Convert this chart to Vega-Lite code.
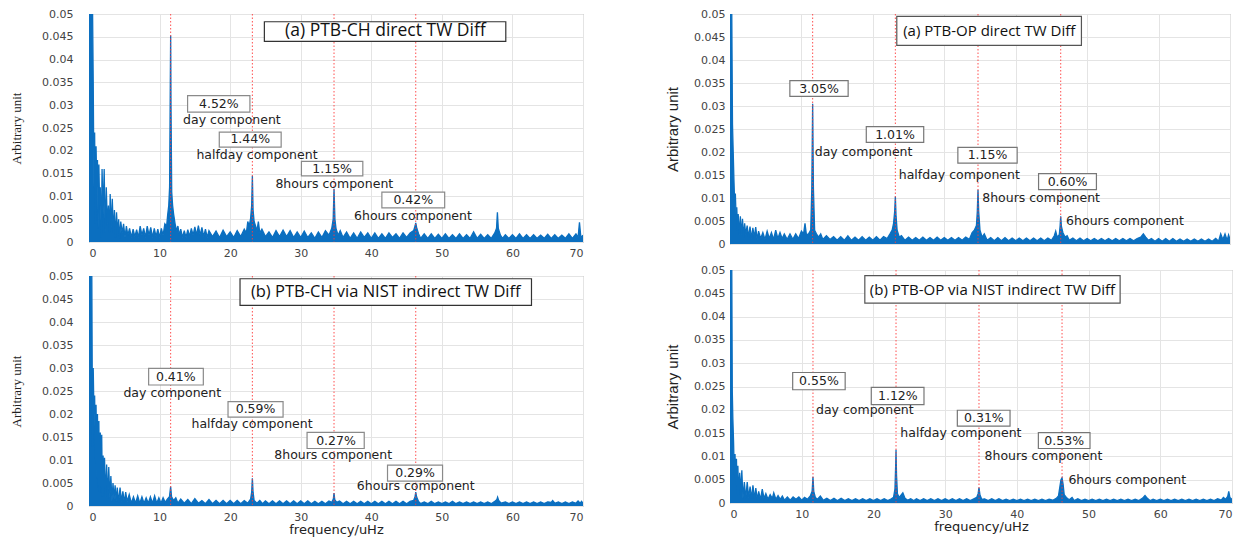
{
"$schema":"https://vega.github.io/schema/vega-lite/v6.json",
"background":"white",
"padding":{"left":10,"top":7,"right":5,"bottom":0},
"datasets":{
"vl":[{"f":11.57},{"f":23.15},{"f":34.72},{"f":46.3}],
"spec":[
{"p":"TL","f":0,"v":0.09},{"p":"TL","f":0.15,"v":0.1},{"p":"TL","f":0.3,"v":0.08},{"p":"TL","f":0.45,"v":0.06},{"p":"TL","f":0.6,"v":0.035},{"p":"TL","f":0.7,"v":0.012},{"p":"TL","f":0.8,"v":0.024},{"p":"TL","f":0.9,"v":0.004},{"p":"TL","f":1.0,"v":0.021},{"p":"TL","f":1.1,"v":0.012},{"p":"TL","f":1.2,"v":0.018},{"p":"TL","f":1.3,"v":0.003},{"p":"TL","f":1.4,"v":0.017},{"p":"TL","f":1.5,"v":0.008},{"p":"TL","f":1.6,"v":0.012},{"p":"TL","f":1.75,"v":0.001},{"p":"TL","f":1.85,"v":0.016},{"p":"TL","f":2.0,"v":0.006},{"p":"TL","f":2.15,"v":0.016},{"p":"TL","f":2.3,"v":0.002},{"p":"TL","f":2.45,"v":0.012},{"p":"TL","f":2.6,"v":0.004},{"p":"TL","f":2.75,"v":0.008},{"p":"TL","f":2.9,"v":0.002},{"p":"TL","f":3.0,"v":0.0105},{"p":"TL","f":3.15,"v":0.003},{"p":"TL","f":3.3,"v":0.0095},{"p":"TL","f":3.45,"v":0.002},{"p":"TL","f":3.6,"v":0.007},{"p":"TL","f":3.75,"v":0.001},{"p":"TL","f":3.9,"v":0.0065},{"p":"TL","f":4.05,"v":0.002},{"p":"TL","f":4.2,"v":0.005},{"p":"TL","f":4.35,"v":0.0008},{"p":"TL","f":4.5,"v":0.0045},{"p":"TL","f":4.7,"v":0.002},{"p":"TL","f":4.9,"v":0.004},{"p":"TL","f":5.1,"v":0.001},{"p":"TL","f":5.3,"v":0.0035},{"p":"TL","f":5.5,"v":0.0015},{"p":"TL","f":5.75,"v":0.003},{"p":"TL","f":6.0,"v":0.001},{"p":"TL","f":6.25,"v":0.0028},{"p":"TL","f":6.5,"v":0.0012},{"p":"TL","f":6.75,"v":0.0027},{"p":"TL","f":7.0,"v":0.001},{"p":"TL","f":7.25,"v":0.0035},{"p":"TL","f":7.5,"v":0.0015},{"p":"TL","f":7.75,"v":0.003},{"p":"TL","f":8.0,"v":0.001},{"p":"TL","f":8.25,"v":0.0035},{"p":"TL","f":8.5,"v":0.0015},{"p":"TL","f":8.75,"v":0.0032},{"p":"TL","f":9.0,"v":0.001},{"p":"TL","f":9.25,"v":0.003},{"p":"TL","f":9.5,"v":0.0012},{"p":"TL","f":9.75,"v":0.0028},{"p":"TL","f":10.0,"v":0.001},{"p":"TL","f":10.25,"v":0.003},{"p":"TL","f":10.5,"v":0.0015},{"p":"TL","f":10.75,"v":0.004},{"p":"TL","f":11.0,"v":0.0035},{"p":"TL","f":11.15,"v":0.006},{"p":"TL","f":11.3,"v":0.008},{"p":"TL","f":11.42,"v":0.012},{"p":"TL","f":11.52,"v":0.035},{"p":"TL","f":11.57,"v":0.0453},{"p":"TL","f":11.62,"v":0.03},{"p":"TL","f":11.72,"v":0.011},{"p":"TL","f":11.85,"v":0.008},{"p":"TL","f":12.0,"v":0.006},{"p":"TL","f":12.2,"v":0.004},{"p":"TL","f":12.4,"v":0.0025},{"p":"TL","f":12.6,"v":0.0035},{"p":"TL","f":12.8,"v":0.0015},{"p":"TL","f":13.0,"v":0.0028},{"p":"TL","f":13.25,"v":0.001},{"p":"TL","f":13.5,"v":0.0025},{"p":"TL","f":13.75,"v":0.001},{"p":"TL","f":14.0,"v":0.0027},{"p":"TL","f":14.25,"v":0.0012},{"p":"TL","f":14.5,"v":0.003},{"p":"TL","f":14.75,"v":0.0015},{"p":"TL","f":15.0,"v":0.0033},{"p":"TL","f":15.25,"v":0.0015},{"p":"TL","f":15.5,"v":0.0036},{"p":"TL","f":15.75,"v":0.0015},{"p":"TL","f":16.0,"v":0.0032},{"p":"TL","f":16.25,"v":0.0012},{"p":"TL","f":16.5,"v":0.0028},{"p":"TL","f":16.75,"v":0.001},{"p":"TL","f":17.0,"v":0.0025},{"p":"TL","f":17.5,"v":0.0012},{"p":"TL","f":18.0,"v":0.0024},{"p":"TL","f":18.5,"v":0.001},{"p":"TL","f":19.0,"v":0.0026},{"p":"TL","f":19.5,"v":0.0012},{"p":"TL","f":20.0,"v":0.0022},{"p":"TL","f":20.5,"v":0.001},{"p":"TL","f":21.0,"v":0.0025},{"p":"TL","f":21.5,"v":0.0012},{"p":"TL","f":22.0,"v":0.0028},{"p":"TL","f":22.3,"v":0.002},{"p":"TL","f":22.5,"v":0.0045},{"p":"TL","f":22.7,"v":0.0035},{"p":"TL","f":22.9,"v":0.0052},{"p":"TL","f":23.05,"v":0.008},{"p":"TL","f":23.15,"v":0.0145},{"p":"TL","f":23.25,"v":0.007},{"p":"TL","f":23.4,"v":0.0045},{"p":"TL","f":23.6,"v":0.0035},{"p":"TL","f":23.8,"v":0.0025},{"p":"TL","f":24.0,"v":0.0045},{"p":"TL","f":24.2,"v":0.002},{"p":"TL","f":24.5,"v":0.0028},{"p":"TL","f":25.0,"v":0.0012},{"p":"TL","f":25.5,"v":0.0022},{"p":"TL","f":26.0,"v":0.001},{"p":"TL","f":26.5,"v":0.0025},{"p":"TL","f":27.0,"v":0.0012},{"p":"TL","f":27.5,"v":0.0026},{"p":"TL","f":28.0,"v":0.0012},{"p":"TL","f":28.5,"v":0.0025},{"p":"TL","f":29.0,"v":0.001},{"p":"TL","f":29.5,"v":0.0022},{"p":"TL","f":30.0,"v":0.001},{"p":"TL","f":30.5,"v":0.0024},{"p":"TL","f":31.0,"v":0.001},{"p":"TL","f":31.5,"v":0.002},{"p":"TL","f":32.0,"v":0.0008},{"p":"TL","f":32.5,"v":0.0022},{"p":"TL","f":33.0,"v":0.001},{"p":"TL","f":33.5,"v":0.0025},{"p":"TL","f":34.0,"v":0.0015},{"p":"TL","f":34.4,"v":0.003},{"p":"TL","f":34.6,"v":0.005},{"p":"TL","f":34.72,"v":0.0117},{"p":"TL","f":34.85,"v":0.005},{"p":"TL","f":35.0,"v":0.003},{"p":"TL","f":35.3,"v":0.0015},{"p":"TL","f":35.6,"v":0.0025},{"p":"TL","f":36.0,"v":0.001},{"p":"TL","f":36.5,"v":0.0022},{"p":"TL","f":37.0,"v":0.0008},{"p":"TL","f":37.5,"v":0.002},{"p":"TL","f":38.0,"v":0.0008},{"p":"TL","f":38.5,"v":0.0022},{"p":"TL","f":39.0,"v":0.001},{"p":"TL","f":39.5,"v":0.002},{"p":"TL","f":40.0,"v":0.0008},{"p":"TL","f":40.5,"v":0.002},{"p":"TL","f":41.0,"v":0.0008},{"p":"TL","f":41.5,"v":0.0018},{"p":"TL","f":42.0,"v":0.0008},{"p":"TL","f":42.5,"v":0.002},{"p":"TL","f":43.0,"v":0.001},{"p":"TL","f":43.5,"v":0.0018},{"p":"TL","f":44.0,"v":0.0008},{"p":"TL","f":44.5,"v":0.002},{"p":"TL","f":45.0,"v":0.001},{"p":"TL","f":45.5,"v":0.002},{"p":"TL","f":46.0,"v":0.0025},{"p":"TL","f":46.2,"v":0.0035},{"p":"TL","f":46.3,"v":0.0042},{"p":"TL","f":46.45,"v":0.003},{"p":"TL","f":46.7,"v":0.0018},{"p":"TL","f":47.0,"v":0.0008},{"p":"TL","f":47.5,"v":0.0018},{"p":"TL","f":48.0,"v":0.0008},{"p":"TL","f":48.5,"v":0.0018},{"p":"TL","f":49.0,"v":0.0008},{"p":"TL","f":49.5,"v":0.0017},{"p":"TL","f":50.0,"v":0.0008},{"p":"TL","f":50.5,"v":0.0018},{"p":"TL","f":51.0,"v":0.0008},{"p":"TL","f":51.5,"v":0.0016},{"p":"TL","f":52.0,"v":0.0008},{"p":"TL","f":52.5,"v":0.0018},{"p":"TL","f":53.0,"v":0.0008},{"p":"TL","f":53.5,"v":0.0016},{"p":"TL","f":54.0,"v":0.0008},{"p":"TL","f":54.5,"v":0.0022},{"p":"TL","f":55.0,"v":0.0008},{"p":"TL","f":55.5,"v":0.0017},{"p":"TL","f":56.0,"v":0.0008},{"p":"TL","f":56.5,"v":0.0016},{"p":"TL","f":57.0,"v":0.0008},{"p":"TL","f":57.5,"v":0.002},{"p":"TL","f":57.75,"v":0.003},{"p":"TL","f":57.87,"v":0.0065},{"p":"TL","f":58.0,"v":0.003},{"p":"TL","f":58.3,"v":0.0015},{"p":"TL","f":58.6,"v":0.0008},{"p":"TL","f":59.0,"v":0.0016},{"p":"TL","f":59.5,"v":0.0008},{"p":"TL","f":60.0,"v":0.0016},{"p":"TL","f":60.5,"v":0.0008},{"p":"TL","f":61.0,"v":0.0018},{"p":"TL","f":61.5,"v":0.0008},{"p":"TL","f":62.0,"v":0.0016},{"p":"TL","f":62.5,"v":0.0008},{"p":"TL","f":63.0,"v":0.0016},{"p":"TL","f":63.5,"v":0.0008},{"p":"TL","f":64.0,"v":0.0015},{"p":"TL","f":64.5,"v":0.0008},{"p":"TL","f":65.0,"v":0.0017},{"p":"TL","f":65.5,"v":0.0008},{"p":"TL","f":66.0,"v":0.0016},{"p":"TL","f":66.5,"v":0.0008},{"p":"TL","f":67.0,"v":0.0015},{"p":"TL","f":67.5,"v":0.0008},{"p":"TL","f":68.0,"v":0.0018},{"p":"TL","f":68.5,"v":0.0008},{"p":"TL","f":69.0,"v":0.0018},{"p":"TL","f":69.3,"v":0.001},{"p":"TL","f":69.5,"v":0.0043},{"p":"TL","f":69.7,"v":0.001},{"p":"TL","f":70.0,"v":0.0015},
{"p":"TR","f":0,"v":0.09},{"p":"TR","f":0.15,"v":0.07},{"p":"TR","f":0.25,"v":0.05},{"p":"TR","f":0.35,"v":0.026},{"p":"TR","f":0.45,"v":0.02},{"p":"TR","f":0.55,"v":0.014},{"p":"TR","f":0.65,"v":0.009},{"p":"TR","f":0.75,"v":0.011},{"p":"TR","f":0.85,"v":0.006},{"p":"TR","f":0.95,"v":0.008},{"p":"TR","f":1.05,"v":0.003},{"p":"TR","f":1.15,"v":0.0065},{"p":"TR","f":1.3,"v":0.002},{"p":"TR","f":1.45,"v":0.006},{"p":"TR","f":1.6,"v":0.002},{"p":"TR","f":1.75,"v":0.0055},{"p":"TR","f":1.9,"v":0.0015},{"p":"TR","f":2.05,"v":0.0045},{"p":"TR","f":2.2,"v":0.002},{"p":"TR","f":2.4,"v":0.004},{"p":"TR","f":2.6,"v":0.0015},{"p":"TR","f":2.8,"v":0.0038},{"p":"TR","f":3.0,"v":0.0012},{"p":"TR","f":3.2,"v":0.0035},{"p":"TR","f":3.4,"v":0.0015},{"p":"TR","f":3.6,"v":0.0037},{"p":"TR","f":3.8,"v":0.001},{"p":"TR","f":4.0,"v":0.0028},{"p":"TR","f":4.3,"v":0.0012},{"p":"TR","f":4.6,"v":0.0025},{"p":"TR","f":4.9,"v":0.001},{"p":"TR","f":5.2,"v":0.0028},{"p":"TR","f":5.5,"v":0.0012},{"p":"TR","f":5.8,"v":0.0025},{"p":"TR","f":6.1,"v":0.001},{"p":"TR","f":6.4,"v":0.003},{"p":"TR","f":6.7,"v":0.0012},{"p":"TR","f":7.0,"v":0.0025},{"p":"TR","f":7.3,"v":0.0012},{"p":"TR","f":7.6,"v":0.0022},{"p":"TR","f":8.0,"v":0.001},{"p":"TR","f":8.4,"v":0.0022},{"p":"TR","f":8.8,"v":0.001},{"p":"TR","f":9.2,"v":0.0022},{"p":"TR","f":9.6,"v":0.0012},{"p":"TR","f":10.0,"v":0.0028},{"p":"TR","f":10.3,"v":0.0022},{"p":"TR","f":10.5,"v":0.0045},{"p":"TR","f":10.7,"v":0.002},{"p":"TR","f":11.0,"v":0.0022},{"p":"TR","f":11.3,"v":0.003},{"p":"TR","f":11.45,"v":0.012},{"p":"TR","f":11.57,"v":0.0305},{"p":"TR","f":11.68,"v":0.012},{"p":"TR","f":11.85,"v":0.003},{"p":"TR","f":12.1,"v":0.0022},{"p":"TR","f":12.4,"v":0.0015},{"p":"TR","f":12.7,"v":0.0022},{"p":"TR","f":13.0,"v":0.001},{"p":"TR","f":13.5,"v":0.0018},{"p":"TR","f":14.0,"v":0.001},{"p":"TR","f":14.5,"v":0.0016},{"p":"TR","f":15.0,"v":0.0008},{"p":"TR","f":15.5,"v":0.0016},{"p":"TR","f":16.0,"v":0.0008},{"p":"TR","f":16.5,"v":0.0018},{"p":"TR","f":17.0,"v":0.0008},{"p":"TR","f":17.5,"v":0.0015},{"p":"TR","f":18.0,"v":0.0008},{"p":"TR","f":18.5,"v":0.0016},{"p":"TR","f":19.0,"v":0.0008},{"p":"TR","f":19.5,"v":0.0015},{"p":"TR","f":20.0,"v":0.0008},{"p":"TR","f":20.5,"v":0.0016},{"p":"TR","f":21.0,"v":0.0008},{"p":"TR","f":21.5,"v":0.0016},{"p":"TR","f":22.0,"v":0.0012},{"p":"TR","f":22.4,"v":0.0022},{"p":"TR","f":22.7,"v":0.003},{"p":"TR","f":22.9,"v":0.0045},{"p":"TR","f":23.05,"v":0.007},{"p":"TR","f":23.15,"v":0.0103},{"p":"TR","f":23.25,"v":0.006},{"p":"TR","f":23.4,"v":0.003},{"p":"TR","f":23.7,"v":0.0015},{"p":"TR","f":24.0,"v":0.0018},{"p":"TR","f":24.5,"v":0.0008},{"p":"TR","f":25.0,"v":0.0015},{"p":"TR","f":25.5,"v":0.0008},{"p":"TR","f":26.0,"v":0.0014},{"p":"TR","f":26.5,"v":0.0008},{"p":"TR","f":27.0,"v":0.0015},{"p":"TR","f":27.5,"v":0.0008},{"p":"TR","f":28.0,"v":0.0014},{"p":"TR","f":28.5,"v":0.0008},{"p":"TR","f":29.0,"v":0.0015},{"p":"TR","f":29.5,"v":0.0008},{"p":"TR","f":30.0,"v":0.0014},{"p":"TR","f":30.5,"v":0.0008},{"p":"TR","f":31.0,"v":0.0014},{"p":"TR","f":31.5,"v":0.0008},{"p":"TR","f":32.0,"v":0.0014},{"p":"TR","f":32.5,"v":0.0008},{"p":"TR","f":33.0,"v":0.0015},{"p":"TR","f":33.5,"v":0.001},{"p":"TR","f":33.9,"v":0.0025},{"p":"TR","f":34.2,"v":0.003},{"p":"TR","f":34.5,"v":0.004},{"p":"TR","f":34.62,"v":0.007},{"p":"TR","f":34.72,"v":0.0118},{"p":"TR","f":34.82,"v":0.007},{"p":"TR","f":35.0,"v":0.003},{"p":"TR","f":35.3,"v":0.0015},{"p":"TR","f":35.6,"v":0.0022},{"p":"TR","f":36.0,"v":0.0008},{"p":"TR","f":36.5,"v":0.0014},{"p":"TR","f":37.0,"v":0.0007},{"p":"TR","f":37.5,"v":0.0014},{"p":"TR","f":38.0,"v":0.0007},{"p":"TR","f":38.5,"v":0.0014},{"p":"TR","f":39.0,"v":0.0007},{"p":"TR","f":39.5,"v":0.0013},{"p":"TR","f":40.0,"v":0.0007},{"p":"TR","f":40.5,"v":0.0013},{"p":"TR","f":41.0,"v":0.0007},{"p":"TR","f":41.5,"v":0.0013},{"p":"TR","f":42.0,"v":0.0007},{"p":"TR","f":42.5,"v":0.0013},{"p":"TR","f":43.0,"v":0.0007},{"p":"TR","f":43.5,"v":0.0013},{"p":"TR","f":44.0,"v":0.0007},{"p":"TR","f":44.5,"v":0.0013},{"p":"TR","f":45.0,"v":0.0008},{"p":"TR","f":45.4,"v":0.0018},{"p":"TR","f":45.6,"v":0.0028},{"p":"TR","f":45.8,"v":0.0015},{"p":"TR","f":46.1,"v":0.002},{"p":"TR","f":46.22,"v":0.004},{"p":"TR","f":46.3,"v":0.006},{"p":"TR","f":46.4,"v":0.0038},{"p":"TR","f":46.6,"v":0.0025},{"p":"TR","f":46.9,"v":0.0015},{"p":"TR","f":47.2,"v":0.0018},{"p":"TR","f":47.5,"v":0.0008},{"p":"TR","f":48.0,"v":0.0013},{"p":"TR","f":48.5,"v":0.0007},{"p":"TR","f":49.0,"v":0.0013},{"p":"TR","f":49.5,"v":0.0007},{"p":"TR","f":50.0,"v":0.0012},{"p":"TR","f":50.5,"v":0.0007},{"p":"TR","f":51.0,"v":0.0012},{"p":"TR","f":51.5,"v":0.0007},{"p":"TR","f":52.0,"v":0.0012},{"p":"TR","f":52.5,"v":0.0007},{"p":"TR","f":53.0,"v":0.0012},{"p":"TR","f":53.5,"v":0.0007},{"p":"TR","f":54.0,"v":0.0012},{"p":"TR","f":54.5,"v":0.0007},{"p":"TR","f":55.0,"v":0.0012},{"p":"TR","f":55.5,"v":0.0007},{"p":"TR","f":56.0,"v":0.0012},{"p":"TR","f":56.5,"v":0.0007},{"p":"TR","f":57.0,"v":0.0012},{"p":"TR","f":57.5,"v":0.0015},{"p":"TR","f":57.87,"v":0.0022},{"p":"TR","f":58.2,"v":0.0015},{"p":"TR","f":58.6,"v":0.0008},{"p":"TR","f":59.0,"v":0.0012},{"p":"TR","f":59.5,"v":0.0006},{"p":"TR","f":60.0,"v":0.0012},{"p":"TR","f":60.5,"v":0.0006},{"p":"TR","f":61.0,"v":0.0012},{"p":"TR","f":61.5,"v":0.0006},{"p":"TR","f":62.0,"v":0.0012},{"p":"TR","f":62.5,"v":0.0006},{"p":"TR","f":63.0,"v":0.0011},{"p":"TR","f":63.5,"v":0.0006},{"p":"TR","f":64.0,"v":0.0011},{"p":"TR","f":64.5,"v":0.0006},{"p":"TR","f":65.0,"v":0.0011},{"p":"TR","f":65.5,"v":0.0006},{"p":"TR","f":66.0,"v":0.0011},{"p":"TR","f":66.5,"v":0.0006},{"p":"TR","f":67.0,"v":0.0011},{"p":"TR","f":67.5,"v":0.0006},{"p":"TR","f":68.0,"v":0.0012},{"p":"TR","f":68.4,"v":0.0006},{"p":"TR","f":68.7,"v":0.0022},{"p":"TR","f":69.0,"v":0.001},{"p":"TR","f":69.3,"v":0.0022},{"p":"TR","f":69.6,"v":0.0008},{"p":"TR","f":69.8,"v":0.002},{"p":"TR","f":70.0,"v":0.001},
{"p":"BL","f":0,"v":0.09},{"p":"BL","f":0.15,"v":0.08},{"p":"BL","f":0.3,"v":0.06},{"p":"BL","f":0.4,"v":0.05},{"p":"BL","f":0.5,"v":0.013},{"p":"BL","f":0.6,"v":0.03},{"p":"BL","f":0.7,"v":0.02},{"p":"BL","f":0.8,"v":0.024},{"p":"BL","f":0.9,"v":0.01},{"p":"BL","f":1.0,"v":0.022},{"p":"BL","f":1.1,"v":0.006},{"p":"BL","f":1.2,"v":0.02},{"p":"BL","f":1.3,"v":0.004},{"p":"BL","f":1.4,"v":0.0185},{"p":"BL","f":1.5,"v":0.003},{"p":"BL","f":1.6,"v":0.016},{"p":"BL","f":1.7,"v":0.004},{"p":"BL","f":1.8,"v":0.0155},{"p":"BL","f":1.9,"v":0.002},{"p":"BL","f":2.0,"v":0.011},{"p":"BL","f":2.1,"v":0.003},{"p":"BL","f":2.2,"v":0.0105},{"p":"BL","f":2.35,"v":0.002},{"p":"BL","f":2.5,"v":0.009},{"p":"BL","f":2.65,"v":0.0015},{"p":"BL","f":2.8,"v":0.0085},{"p":"BL","f":2.95,"v":0.002},{"p":"BL","f":3.1,"v":0.0065},{"p":"BL","f":3.25,"v":0.001},{"p":"BL","f":3.4,"v":0.005},{"p":"BL","f":3.55,"v":0.0015},{"p":"BL","f":3.7,"v":0.0045},{"p":"BL","f":3.85,"v":0.001},{"p":"BL","f":4.0,"v":0.004},{"p":"BL","f":4.2,"v":0.0008},{"p":"BL","f":4.4,"v":0.004},{"p":"BL","f":4.6,"v":0.001},{"p":"BL","f":4.8,"v":0.0032},{"p":"BL","f":5.0,"v":0.0008},{"p":"BL","f":5.2,"v":0.003},{"p":"BL","f":5.4,"v":0.001},{"p":"BL","f":5.7,"v":0.0025},{"p":"BL","f":6.0,"v":0.0006},{"p":"BL","f":6.3,"v":0.002},{"p":"BL","f":6.6,"v":0.0006},{"p":"BL","f":6.9,"v":0.0022},{"p":"BL","f":7.2,"v":0.0006},{"p":"BL","f":7.5,"v":0.002},{"p":"BL","f":7.8,"v":0.0006},{"p":"BL","f":8.1,"v":0.0018},{"p":"BL","f":8.4,"v":0.0006},{"p":"BL","f":8.7,"v":0.002},{"p":"BL","f":9.0,"v":0.0006},{"p":"BL","f":9.3,"v":0.0022},{"p":"BL","f":9.6,"v":0.0006},{"p":"BL","f":9.9,"v":0.0018},{"p":"BL","f":10.2,"v":0.0006},{"p":"BL","f":10.5,"v":0.0018},{"p":"BL","f":10.8,"v":0.0008},{"p":"BL","f":11.1,"v":0.0015},{"p":"BL","f":11.4,"v":0.002},{"p":"BL","f":11.57,"v":0.0042},{"p":"BL","f":11.7,"v":0.002},{"p":"BL","f":12.0,"v":0.0012},{"p":"BL","f":12.3,"v":0.0018},{"p":"BL","f":12.6,"v":0.0006},{"p":"BL","f":13.0,"v":0.0015},{"p":"BL","f":13.5,"v":0.0006},{"p":"BL","f":14.0,"v":0.0014},{"p":"BL","f":14.5,"v":0.0005},{"p":"BL","f":15.0,"v":0.0016},{"p":"BL","f":15.5,"v":0.0006},{"p":"BL","f":16.0,"v":0.0012},{"p":"BL","f":16.5,"v":0.0005},{"p":"BL","f":17.0,"v":0.0014},{"p":"BL","f":17.5,"v":0.0005},{"p":"BL","f":18.0,"v":0.0012},{"p":"BL","f":18.5,"v":0.0005},{"p":"BL","f":19.0,"v":0.0012},{"p":"BL","f":19.5,"v":0.0005},{"p":"BL","f":20.0,"v":0.0012},{"p":"BL","f":20.5,"v":0.0005},{"p":"BL","f":21.0,"v":0.0012},{"p":"BL","f":21.5,"v":0.0005},{"p":"BL","f":22.0,"v":0.0012},{"p":"BL","f":22.5,"v":0.0006},{"p":"BL","f":22.9,"v":0.0015},{"p":"BL","f":23.05,"v":0.003},{"p":"BL","f":23.15,"v":0.006},{"p":"BL","f":23.25,"v":0.003},{"p":"BL","f":23.4,"v":0.0012},{"p":"BL","f":23.8,"v":0.0006},{"p":"BL","f":24.2,"v":0.0012},{"p":"BL","f":24.6,"v":0.0005},{"p":"BL","f":25.0,"v":0.0011},{"p":"BL","f":25.5,"v":0.0005},{"p":"BL","f":26.0,"v":0.0011},{"p":"BL","f":26.5,"v":0.0005},{"p":"BL","f":27.0,"v":0.0011},{"p":"BL","f":27.5,"v":0.0005},{"p":"BL","f":28.0,"v":0.0011},{"p":"BL","f":28.5,"v":0.0005},{"p":"BL","f":29.0,"v":0.0011},{"p":"BL","f":29.5,"v":0.0005},{"p":"BL","f":30.0,"v":0.0011},{"p":"BL","f":30.5,"v":0.0005},{"p":"BL","f":31.0,"v":0.0011},{"p":"BL","f":31.5,"v":0.0005},{"p":"BL","f":32.0,"v":0.001},{"p":"BL","f":32.5,"v":0.0005},{"p":"BL","f":33.0,"v":0.001},{"p":"BL","f":33.5,"v":0.0005},{"p":"BL","f":34.0,"v":0.0011},{"p":"BL","f":34.4,"v":0.0008},{"p":"BL","f":34.62,"v":0.0015},{"p":"BL","f":34.72,"v":0.0028},{"p":"BL","f":34.82,"v":0.0014},{"p":"BL","f":35.1,"v":0.0008},{"p":"BL","f":35.5,"v":0.0011},{"p":"BL","f":36.0,"v":0.0005},{"p":"BL","f":36.5,"v":0.001},{"p":"BL","f":37.0,"v":0.0005},{"p":"BL","f":37.5,"v":0.001},{"p":"BL","f":38.0,"v":0.0005},{"p":"BL","f":38.5,"v":0.001},{"p":"BL","f":39.0,"v":0.0005},{"p":"BL","f":39.5,"v":0.001},{"p":"BL","f":40.0,"v":0.0005},{"p":"BL","f":40.5,"v":0.001},{"p":"BL","f":41.0,"v":0.0005},{"p":"BL","f":41.5,"v":0.001},{"p":"BL","f":42.0,"v":0.0005},{"p":"BL","f":42.5,"v":0.001},{"p":"BL","f":43.0,"v":0.0005},{"p":"BL","f":43.5,"v":0.001},{"p":"BL","f":44.0,"v":0.0005},{"p":"BL","f":44.5,"v":0.001},{"p":"BL","f":45.0,"v":0.0005},{"p":"BL","f":45.5,"v":0.001},{"p":"BL","f":46.0,"v":0.0012},{"p":"BL","f":46.2,"v":0.002},{"p":"BL","f":46.3,"v":0.003},{"p":"BL","f":46.42,"v":0.002},{"p":"BL","f":46.7,"v":0.001},{"p":"BL","f":47.0,"v":0.0005},{"p":"BL","f":47.5,"v":0.0009},{"p":"BL","f":48.0,"v":0.0005},{"p":"BL","f":48.5,"v":0.001},{"p":"BL","f":49.0,"v":0.0005},{"p":"BL","f":49.5,"v":0.0009},{"p":"BL","f":50.0,"v":0.0005},{"p":"BL","f":50.5,"v":0.0009},{"p":"BL","f":51.0,"v":0.0005},{"p":"BL","f":51.5,"v":0.001},{"p":"BL","f":52.0,"v":0.0005},{"p":"BL","f":52.5,"v":0.0009},{"p":"BL","f":53.0,"v":0.0005},{"p":"BL","f":53.5,"v":0.0009},{"p":"BL","f":54.0,"v":0.0005},{"p":"BL","f":54.5,"v":0.0009},{"p":"BL","f":55.0,"v":0.0005},{"p":"BL","f":55.5,"v":0.0009},{"p":"BL","f":56.0,"v":0.0005},{"p":"BL","f":56.5,"v":0.0009},{"p":"BL","f":57.0,"v":0.0005},{"p":"BL","f":57.5,"v":0.001},{"p":"BL","f":57.8,"v":0.0014},{"p":"BL","f":57.9,"v":0.0019},{"p":"BL","f":58.05,"v":0.0012},{"p":"BL","f":58.4,"v":0.0006},{"p":"BL","f":59.0,"v":0.0009},{"p":"BL","f":59.5,"v":0.0005},{"p":"BL","f":60.0,"v":0.0009},{"p":"BL","f":60.5,"v":0.0005},{"p":"BL","f":61.0,"v":0.0009},{"p":"BL","f":61.5,"v":0.0005},{"p":"BL","f":62.0,"v":0.0009},{"p":"BL","f":62.5,"v":0.0005},{"p":"BL","f":63.0,"v":0.0009},{"p":"BL","f":63.5,"v":0.0005},{"p":"BL","f":64.0,"v":0.0009},{"p":"BL","f":64.5,"v":0.0005},{"p":"BL","f":65.0,"v":0.0009},{"p":"BL","f":65.5,"v":0.0008},{"p":"BL","f":65.7,"v":0.0012},{"p":"BL","f":66.0,"v":0.0006},{"p":"BL","f":66.5,"v":0.0009},{"p":"BL","f":67.0,"v":0.0005},{"p":"BL","f":67.5,"v":0.0009},{"p":"BL","f":68.0,"v":0.0005},{"p":"BL","f":68.5,"v":0.0009},{"p":"BL","f":69.0,"v":0.0006},{"p":"BL","f":69.3,"v":0.0011},{"p":"BL","f":69.6,"v":0.0006},{"p":"BL","f":69.8,"v":0.001},{"p":"BL","f":70.0,"v":0.0006},
{"p":"BR","f":0,"v":0.09},{"p":"BR","f":0.15,"v":0.07},{"p":"BR","f":0.25,"v":0.05},{"p":"BR","f":0.32,"v":0.024},{"p":"BR","f":0.4,"v":0.018},{"p":"BR","f":0.5,"v":0.013},{"p":"BR","f":0.6,"v":0.006},{"p":"BR","f":0.7,"v":0.0105},{"p":"BR","f":0.8,"v":0.004},{"p":"BR","f":0.9,"v":0.0095},{"p":"BR","f":1.0,"v":0.002},{"p":"BR","f":1.1,"v":0.008},{"p":"BR","f":1.2,"v":0.0015},{"p":"BR","f":1.35,"v":0.0065},{"p":"BR","f":1.5,"v":0.0025},{"p":"BR","f":1.65,"v":0.007},{"p":"BR","f":1.8,"v":0.001},{"p":"BR","f":2.0,"v":0.0045},{"p":"BR","f":2.2,"v":0.001},{"p":"BR","f":2.4,"v":0.0045},{"p":"BR","f":2.6,"v":0.0012},{"p":"BR","f":2.8,"v":0.0035},{"p":"BR","f":3.0,"v":0.001},{"p":"BR","f":3.2,"v":0.0038},{"p":"BR","f":3.4,"v":0.001},{"p":"BR","f":3.6,"v":0.0032},{"p":"BR","f":3.8,"v":0.0008},{"p":"BR","f":4.0,"v":0.0025},{"p":"BR","f":4.25,"v":0.0008},{"p":"BR","f":4.5,"v":0.003},{"p":"BR","f":4.75,"v":0.001},{"p":"BR","f":5.0,"v":0.002},{"p":"BR","f":5.3,"v":0.0008},{"p":"BR","f":5.6,"v":0.0018},{"p":"BR","f":5.9,"v":0.001},{"p":"BR","f":6.1,"v":0.0022},{"p":"BR","f":6.4,"v":0.0008},{"p":"BR","f":6.7,"v":0.0016},{"p":"BR","f":7.0,"v":0.0008},{"p":"BR","f":7.3,"v":0.0015},{"p":"BR","f":7.6,"v":0.0006},{"p":"BR","f":8.0,"v":0.0013},{"p":"BR","f":8.4,"v":0.0006},{"p":"BR","f":8.8,"v":0.0013},{"p":"BR","f":9.2,"v":0.0008},{"p":"BR","f":9.6,"v":0.0013},{"p":"BR","f":10.0,"v":0.0006},{"p":"BR","f":10.4,"v":0.0012},{"p":"BR","f":10.8,"v":0.0008},{"p":"BR","f":11.2,"v":0.0015},{"p":"BR","f":11.45,"v":0.0025},{"p":"BR","f":11.57,"v":0.0056},{"p":"BR","f":11.68,"v":0.0025},{"p":"BR","f":11.9,"v":0.0012},{"p":"BR","f":12.2,"v":0.0008},{"p":"BR","f":12.6,"v":0.0015},{"p":"BR","f":13.0,"v":0.0006},{"p":"BR","f":13.5,"v":0.001},{"p":"BR","f":14.0,"v":0.0005},{"p":"BR","f":14.5,"v":0.001},{"p":"BR","f":15.0,"v":0.0005},{"p":"BR","f":15.5,"v":0.001},{"p":"BR","f":16.0,"v":0.0005},{"p":"BR","f":16.5,"v":0.0009},{"p":"BR","f":17.0,"v":0.0005},{"p":"BR","f":17.5,"v":0.0009},{"p":"BR","f":18.0,"v":0.0005},{"p":"BR","f":18.5,"v":0.0009},{"p":"BR","f":19.0,"v":0.0005},{"p":"BR","f":19.5,"v":0.0009},{"p":"BR","f":20.0,"v":0.0005},{"p":"BR","f":20.5,"v":0.0009},{"p":"BR","f":21.0,"v":0.0005},{"p":"BR","f":21.5,"v":0.0009},{"p":"BR","f":22.0,"v":0.0005},{"p":"BR","f":22.5,"v":0.0009},{"p":"BR","f":22.8,"v":0.0012},{"p":"BR","f":23.0,"v":0.003},{"p":"BR","f":23.1,"v":0.008},{"p":"BR","f":23.15,"v":0.0114},{"p":"BR","f":23.22,"v":0.006},{"p":"BR","f":23.35,"v":0.002},{"p":"BR","f":23.6,"v":0.0012},{"p":"BR","f":23.9,"v":0.0018},{"p":"BR","f":24.1,"v":0.0022},{"p":"BR","f":24.4,"v":0.001},{"p":"BR","f":24.8,"v":0.0006},{"p":"BR","f":25.2,"v":0.0009},{"p":"BR","f":25.6,"v":0.0005},{"p":"BR","f":26.0,"v":0.0009},{"p":"BR","f":26.5,"v":0.0005},{"p":"BR","f":27.0,"v":0.0009},{"p":"BR","f":27.5,"v":0.0005},{"p":"BR","f":28.0,"v":0.0009},{"p":"BR","f":28.5,"v":0.0005},{"p":"BR","f":29.0,"v":0.0009},{"p":"BR","f":29.5,"v":0.0005},{"p":"BR","f":30.0,"v":0.0009},{"p":"BR","f":30.5,"v":0.0005},{"p":"BR","f":31.0,"v":0.0009},{"p":"BR","f":31.5,"v":0.0005},{"p":"BR","f":32.0,"v":0.0009},{"p":"BR","f":32.5,"v":0.0005},{"p":"BR","f":33.0,"v":0.0009},{"p":"BR","f":33.5,"v":0.0005},{"p":"BR","f":34.0,"v":0.0009},{"p":"BR","f":34.4,"v":0.0012},{"p":"BR","f":34.6,"v":0.002},{"p":"BR","f":34.72,"v":0.0033},{"p":"BR","f":34.85,"v":0.0018},{"p":"BR","f":35.1,"v":0.0008},{"p":"BR","f":35.5,"v":0.0009},{"p":"BR","f":36.0,"v":0.0005},{"p":"BR","f":36.5,"v":0.0009},{"p":"BR","f":37.0,"v":0.0005},{"p":"BR","f":37.5,"v":0.0009},{"p":"BR","f":38.0,"v":0.0005},{"p":"BR","f":38.5,"v":0.0008},{"p":"BR","f":39.0,"v":0.0005},{"p":"BR","f":39.5,"v":0.0008},{"p":"BR","f":40.0,"v":0.0005},{"p":"BR","f":40.5,"v":0.0008},{"p":"BR","f":41.0,"v":0.0005},{"p":"BR","f":41.5,"v":0.0008},{"p":"BR","f":42.0,"v":0.0005},{"p":"BR","f":42.5,"v":0.0008},{"p":"BR","f":43.0,"v":0.0005},{"p":"BR","f":43.5,"v":0.0008},{"p":"BR","f":44.0,"v":0.0005},{"p":"BR","f":44.5,"v":0.0008},{"p":"BR","f":45.0,"v":0.0006},{"p":"BR","f":45.5,"v":0.001},{"p":"BR","f":45.8,"v":0.0015},{"p":"BR","f":46.0,"v":0.0035},{"p":"BR","f":46.15,"v":0.005},{"p":"BR","f":46.3,"v":0.0054},{"p":"BR","f":46.45,"v":0.004},{"p":"BR","f":46.6,"v":0.0018},{"p":"BR","f":46.9,"v":0.0012},{"p":"BR","f":47.3,"v":0.0007},{"p":"BR","f":47.7,"v":0.0012},{"p":"BR","f":48.0,"v":0.0005},{"p":"BR","f":48.5,"v":0.0009},{"p":"BR","f":49.0,"v":0.0005},{"p":"BR","f":49.5,"v":0.0008},{"p":"BR","f":50.0,"v":0.0005},{"p":"BR","f":50.5,"v":0.0008},{"p":"BR","f":51.0,"v":0.0005},{"p":"BR","f":51.5,"v":0.0008},{"p":"BR","f":52.0,"v":0.0005},{"p":"BR","f":52.5,"v":0.0008},{"p":"BR","f":53.0,"v":0.0005},{"p":"BR","f":53.5,"v":0.0008},{"p":"BR","f":54.0,"v":0.0005},{"p":"BR","f":54.5,"v":0.0008},{"p":"BR","f":55.0,"v":0.0005},{"p":"BR","f":55.5,"v":0.0008},{"p":"BR","f":56.0,"v":0.0005},{"p":"BR","f":56.5,"v":0.0008},{"p":"BR","f":57.0,"v":0.0005},{"p":"BR","f":57.5,"v":0.001},{"p":"BR","f":57.87,"v":0.0016},{"p":"BR","f":58.2,"v":0.001},{"p":"BR","f":58.6,"v":0.0005},{"p":"BR","f":59.0,"v":0.0008},{"p":"BR","f":59.5,"v":0.0005},{"p":"BR","f":60.0,"v":0.0008},{"p":"BR","f":60.5,"v":0.0005},{"p":"BR","f":61.0,"v":0.0008},{"p":"BR","f":61.5,"v":0.0005},{"p":"BR","f":62.0,"v":0.0008},{"p":"BR","f":62.5,"v":0.0005},{"p":"BR","f":63.0,"v":0.0008},{"p":"BR","f":63.5,"v":0.0005},{"p":"BR","f":64.0,"v":0.0008},{"p":"BR","f":64.5,"v":0.0005},{"p":"BR","f":65.0,"v":0.0008},{"p":"BR","f":65.5,"v":0.0005},{"p":"BR","f":66.0,"v":0.0008},{"p":"BR","f":66.5,"v":0.0005},{"p":"BR","f":67.0,"v":0.0008},{"p":"BR","f":67.5,"v":0.0005},{"p":"BR","f":68.0,"v":0.0009},{"p":"BR","f":68.5,"v":0.0006},{"p":"BR","f":68.8,"v":0.0012},{"p":"BR","f":69.1,"v":0.0008},{"p":"BR","f":69.4,"v":0.0014},{"p":"BR","f":69.55,"v":0.0025},{"p":"BR","f":69.7,"v":0.0012},{"p":"BR","f":70.0,"v":0.0008}
],
"box":[
{"p":"TL","k":"t","x1":24.85,"x2":59.06,"y1":0.044,"y2":0.0483,"t":"(a) PTB-CH direct TW Diff","tx":42,"ty":0.0462},
{"p":"TL","k":"p","x1":13.97,"x2":22.8,"y1":0.0285,"y2":0.0321,"t":"4.52%","tx":18.4,"ty":0.0303},
{"p":"TL","k":"p","x1":18.46,"x2":27.23,"y1":0.0208,"y2":0.0241,"t":"1.44%","tx":22.85,"ty":0.0225},
{"p":"TL","k":"p","x1":30.1,"x2":38.8,"y1":0.0145,"y2":0.0177,"t":"1.15%","tx":34.45,"ty":0.0161},
{"p":"TL","k":"p","x1":41.5,"x2":50.4,"y1":0.0075,"y2":0.01095,"t":"0.42%","tx":45.95,"ty":0.0092},
{"p":"TR","k":"t","x1":23.35,"x2":49.2,"y1":0.0432,"y2":0.0495,"t":"(a) PTB-OP direct TW Diff","tx":36.3,"ty":0.0463},
{"p":"TR","k":"p","x1":8.38,"x2":16.54,"y1":0.0321,"y2":0.0355,"t":"3.05%","tx":12.46,"ty":0.0338},
{"p":"TR","k":"p","x1":19.08,"x2":27.12,"y1":0.0221,"y2":0.0255,"t":"1.01%","tx":23.1,"ty":0.0238},
{"p":"TR","k":"p","x1":31.9,"x2":40.2,"y1":0.0176,"y2":0.021,"t":"1.15%","tx":36.05,"ty":0.0193},
{"p":"TR","k":"p","x1":43.2,"x2":51.3,"y1":0.0118,"y2":0.0153,"t":"0.60%","tx":47.25,"ty":0.0135},
{"p":"BL","k":"t","x1":21.4,"x2":62.7,"y1":0.0436,"y2":0.0494,"t":"(b) PTB-CH via NIST indirect TW Diff","tx":42.05,"ty":0.0465},
{"p":"BL","k":"p","x1":8.45,"x2":16.2,"y1":0.0263,"y2":0.0299,"t":"0.41%","tx":12.3,"ty":0.0281},
{"p":"BL","k":"p","x1":19.7,"x2":27.5,"y1":0.0193,"y2":0.0227,"t":"0.59%","tx":23.6,"ty":0.021},
{"p":"BL","k":"p","x1":30.9,"x2":39.0,"y1":0.0125,"y2":0.016,"t":"0.27%","tx":35,"ty":0.0142},
{"p":"BL","k":"p","x1":42.3,"x2":50.1,"y1":0.0054,"y2":0.0089,"t":"0.29%","tx":46.2,"ty":0.0071},
{"p":"BR","k":"t","x1":18.8,"x2":54.4,"y1":0.0429,"y2":0.0488,"t":"(b) PTB-OP via NIST indirect TW Diff","tx":36.6,"ty":0.0458},
{"p":"BR","k":"p","x1":8.74,"x2":16.06,"y1":0.0243,"y2":0.028,"t":"0.55%","tx":12.4,"ty":0.0262},
{"p":"BR","k":"p","x1":19.7,"x2":27.05,"y1":0.0211,"y2":0.0248,"t":"1.12%","tx":23.4,"ty":0.023},
{"p":"BR","k":"p","x1":31.7,"x2":39.05,"y1":0.0165,"y2":0.0199,"t":"0.31%","tx":35.4,"ty":0.0182},
{"p":"BR","k":"p","x1":43.0,"x2":50.2,"y1":0.0117,"y2":0.0151,"t":"0.53%","tx":46.6,"ty":0.0134}
],
"lbl":[
{"p":"TL","x":20.25,"y":0.0268,"t":"day component"},{"p":"TL","x":23.8,"y":0.0191,"t":"halfday component"},{"p":"TL","x":34.76,"y":0.0128,"t":"8hours component"},{"p":"TL","x":45.9,"y":0.0058,"t":"6hours component"},
{"p":"TR","x":18.7,"y":0.0199,"t":"day component"},{"p":"TR","x":32.1,"y":0.0151,"t":"halfday component"},{"p":"TR","x":43.55,"y":0.01,"t":"8hours component"},{"p":"TR","x":55.3,"y":0.0051,"t":"6hours component"},
{"p":"BL","x":11.8,"y":0.0246,"t":"day component"},{"p":"BL","x":23.1,"y":0.0179,"t":"halfday component"},{"p":"BL","x":34.6,"y":0.011,"t":"8hours component"},{"p":"BL","x":46.3,"y":0.0043,"t":"6hours component"},
{"p":"BR","x":18.8,"y":0.0199,"t":"day component"},{"p":"BR","x":32.2,"y":0.0151,"t":"halfday component"},{"p":"BR","x":43.7,"y":0.01,"t":"8hours component"},{"p":"BR","x":55.4,"y":0.005,"t":"6hours component"}
]
},
"hconcat":[
{"spacing":10,"vconcat":[
{"width":494,"height":228,"layer":[
{"data":{"name":"spec"},"transform":[{"filter":"datum.p=='TL'"}],"mark":{"type":"area","color":"#0b6fc0","clip":true},"encoding":{"x":{"field":"f","type":"quantitative","scale":{"domain":[0,70],"nice":false},"axis":{"tickCount":7,"title":null}},"y":{"field":"v","type":"quantitative","scale":{"domain":[0,0.05],"nice":false},"axis":{"tickCount":10,"format":"~g","title":"Arbitrary unit","labelPadding":16,"titleFont":"Liberation Sans Narrow","titleFontSize":13,"titlePadding":18}}}},
{"data":{"name":"spec"},"transform":[{"filter":"datum.p=='TL'"}],"mark":{"type":"line","color":"#0b6fc0","strokeWidth":1.3,"clip":true},"encoding":{"x":{"field":"f","type":"quantitative"},"y":{"field":"v","type":"quantitative"}}},
{"data":{"name":"vl"},"mark":{"type":"rule","color":"#ff3b3b","strokeDash":[1.5,2],"strokeWidth":0.9},"encoding":{"x":{"field":"f","type":"quantitative"}}},
{"data":{"name":"box"},"transform":[{"filter":"datum.p=='TL'"}],"mark":{"type":"rect","fill":"white","strokeWidth":1.2},"encoding":{"x":{"field":"x1","type":"quantitative"},"x2":{"field":"x2"},"y":{"field":"y1","type":"quantitative"},"y2":{"field":"y2"},"stroke":{"condition":{"test":"datum.k=='t'","value":"#333333"},"value":"#8a8a8a"}}},
{"data":{"name":"box"},"transform":[{"filter":"datum.p=='TL' && datum.k=='p'"}],"mark":{"type":"text","font":"DejaVu Sans","fontSize":12.5,"color":"#222"},"encoding":{"x":{"field":"tx","type":"quantitative"},"y":{"field":"ty","type":"quantitative"},"text":{"field":"t"}}},
{"data":{"name":"box"},"transform":[{"filter":"datum.p=='TL' && datum.k=='t'"}],"mark":{"type":"text","font":"Open Sans","fontSize":17.5,"color":"#111"},"encoding":{"x":{"field":"tx","type":"quantitative"},"y":{"field":"ty","type":"quantitative"},"text":{"field":"t"}}},
{"data":{"name":"lbl"},"transform":[{"filter":"datum.p=='TL'"}],"mark":{"type":"text","font":"DejaVu Sans","fontSize":12.5,"color":"#222"},"encoding":{"x":{"field":"x","type":"quantitative"},"y":{"field":"y","type":"quantitative"},"text":{"field":"t"}}}
]},
{"width":494,"height":230,"layer":[
{"data":{"name":"spec"},"transform":[{"filter":"datum.p=='BL'"}],"mark":{"type":"area","color":"#0b6fc0","clip":true},"encoding":{"x":{"field":"f","type":"quantitative","scale":{"domain":[0,70],"nice":false},"axis":{"tickCount":7,"title":"frequency/uHz","titlePadding":1}},"y":{"field":"v","type":"quantitative","scale":{"domain":[0,0.05],"nice":false},"axis":{"tickCount":10,"format":"~g","title":"Arbitrary unit","labelPadding":16,"titleFont":"Liberation Sans Narrow","titleFontSize":13,"titlePadding":18}}}},
{"data":{"name":"spec"},"transform":[{"filter":"datum.p=='BL'"}],"mark":{"type":"line","color":"#0b6fc0","strokeWidth":1.3,"clip":true},"encoding":{"x":{"field":"f","type":"quantitative"},"y":{"field":"v","type":"quantitative"}}},
{"data":{"name":"vl"},"mark":{"type":"rule","color":"#ff3b3b","strokeDash":[1.5,2],"strokeWidth":0.9},"encoding":{"x":{"field":"f","type":"quantitative"}}},
{"data":{"name":"box"},"transform":[{"filter":"datum.p=='BL'"}],"mark":{"type":"rect","fill":"white","strokeWidth":1.2},"encoding":{"x":{"field":"x1","type":"quantitative"},"x2":{"field":"x2"},"y":{"field":"y1","type":"quantitative"},"y2":{"field":"y2"},"stroke":{"condition":{"test":"datum.k=='t'","value":"#333333"},"value":"#8a8a8a"}}},
{"data":{"name":"box"},"transform":[{"filter":"datum.p=='BL' && datum.k=='p'"}],"mark":{"type":"text","font":"DejaVu Sans","fontSize":12.5,"color":"#222"},"encoding":{"x":{"field":"tx","type":"quantitative"},"y":{"field":"ty","type":"quantitative"},"text":{"field":"t"}}},
{"data":{"name":"box"},"transform":[{"filter":"datum.p=='BL' && datum.k=='t'"}],"mark":{"type":"text","font":"Open Sans","fontSize":16.5,"color":"#111"},"encoding":{"x":{"field":"tx","type":"quantitative"},"y":{"field":"ty","type":"quantitative"},"text":{"field":"t"}}},
{"data":{"name":"lbl"},"transform":[{"filter":"datum.p=='BL'"}],"mark":{"type":"text","font":"DejaVu Sans","fontSize":12.5,"color":"#222"},"encoding":{"x":{"field":"x","type":"quantitative"},"y":{"field":"y","type":"quantitative"},"text":{"field":"t"}}}
]}
]},
{"spacing":13,"vconcat":[
{"width":500,"height":230,"layer":[
{"data":{"name":"spec"},"transform":[{"filter":"datum.p=='TR'"}],"mark":{"type":"area","color":"#0b6fc0","clip":true},"encoding":{"x":{"field":"f","type":"quantitative","scale":{"domain":[0,70],"nice":false},"axis":{"tickCount":7,"labels":false,"title":null}},"y":{"field":"v","type":"quantitative","scale":{"domain":[0,0.05],"nice":false},"axis":{"tickCount":10,"format":"~g","title":"Arbitrary unit","labelPadding":5,"titleFont":"Liberation Sans","titleFontSize":15,"titlePadding":13}}}},
{"data":{"name":"spec"},"transform":[{"filter":"datum.p=='TR'"}],"mark":{"type":"line","color":"#0b6fc0","strokeWidth":1.3,"clip":true},"encoding":{"x":{"field":"f","type":"quantitative"},"y":{"field":"v","type":"quantitative"}}},
{"data":{"name":"vl"},"mark":{"type":"rule","color":"#ff3b3b","strokeDash":[1.5,2],"strokeWidth":0.9},"encoding":{"x":{"field":"f","type":"quantitative"}}},
{"data":{"name":"box"},"transform":[{"filter":"datum.p=='TR'"}],"mark":{"type":"rect","fill":"white","strokeWidth":1.2},"encoding":{"x":{"field":"x1","type":"quantitative"},"x2":{"field":"x2"},"y":{"field":"y1","type":"quantitative"},"y2":{"field":"y2"},"stroke":{"condition":{"test":"datum.k=='t'","value":"#555555"},"value":"#777777"}}},
{"data":{"name":"box"},"transform":[{"filter":"datum.p=='TR' && datum.k=='p'"}],"mark":{"type":"text","font":"DejaVu Sans","fontSize":12.5,"color":"#222"},"encoding":{"x":{"field":"tx","type":"quantitative"},"y":{"field":"ty","type":"quantitative"},"text":{"field":"t"}}},
{"data":{"name":"box"},"transform":[{"filter":"datum.p=='TR' && datum.k=='t'"}],"mark":{"type":"text","font":"Open Sans","fontSize":15,"color":"#111"},"encoding":{"x":{"field":"tx","type":"quantitative"},"y":{"field":"ty","type":"quantitative"},"text":{"field":"t"}}},
{"data":{"name":"lbl"},"transform":[{"filter":"datum.p=='TR'"}],"mark":{"type":"text","font":"DejaVu Sans","fontSize":12.5,"color":"#222"},"encoding":{"x":{"field":"x","type":"quantitative"},"y":{"field":"y","type":"quantitative"},"text":{"field":"t"}}}
]},
{"width":502,"height":233,"layer":[
{"data":{"name":"spec"},"transform":[{"filter":"datum.p=='BR'"}],"mark":{"type":"area","color":"#0b6fc0","clip":true},"encoding":{"x":{"field":"f","type":"quantitative","scale":{"domain":[0,70],"nice":false},"axis":{"tickCount":7,"title":"frequency/uHz","titlePadding":1}},"y":{"field":"v","type":"quantitative","scale":{"domain":[0,0.05],"nice":false},"axis":{"tickCount":10,"format":"~g","title":"Arbitrary unit","labelPadding":5,"titleFont":"Liberation Sans","titleFontSize":15,"titlePadding":13}}}},
{"data":{"name":"spec"},"transform":[{"filter":"datum.p=='BR'"}],"mark":{"type":"line","color":"#0b6fc0","strokeWidth":1.3,"clip":true},"encoding":{"x":{"field":"f","type":"quantitative"},"y":{"field":"v","type":"quantitative"}}},
{"data":{"name":"vl"},"mark":{"type":"rule","color":"#ff3b3b","strokeDash":[1.5,2],"strokeWidth":0.9},"encoding":{"x":{"field":"f","type":"quantitative"}}},
{"data":{"name":"box"},"transform":[{"filter":"datum.p=='BR'"}],"mark":{"type":"rect","fill":"white","strokeWidth":1.2},"encoding":{"x":{"field":"x1","type":"quantitative"},"x2":{"field":"x2"},"y":{"field":"y1","type":"quantitative"},"y2":{"field":"y2"},"stroke":{"condition":{"test":"datum.k=='t'","value":"#555555"},"value":"#777777"}}},
{"data":{"name":"box"},"transform":[{"filter":"datum.p=='BR' && datum.k=='p'"}],"mark":{"type":"text","font":"DejaVu Sans","fontSize":12.5,"color":"#222"},"encoding":{"x":{"field":"tx","type":"quantitative"},"y":{"field":"ty","type":"quantitative"},"text":{"field":"t"}}},
{"data":{"name":"box"},"transform":[{"filter":"datum.p=='BR' && datum.k=='t'"}],"mark":{"type":"text","font":"Open Sans","fontSize":15,"color":"#111"},"encoding":{"x":{"field":"tx","type":"quantitative"},"y":{"field":"ty","type":"quantitative"},"text":{"field":"t"}}},
{"data":{"name":"lbl"},"transform":[{"filter":"datum.p=='BR'"}],"mark":{"type":"text","font":"DejaVu Sans","fontSize":12.5,"color":"#222"},"encoding":{"x":{"field":"x","type":"quantitative"},"y":{"field":"y","type":"quantitative"},"text":{"field":"t"}}}
]}
]}
],
"spacing":81,
"config":{
"view":{"stroke":"#9a9a9a","strokeWidth":1},
"axis":{"domain":false,"ticks":false,"grid":true,"gridColor":"#e4e4e4","labelFont":"DejaVu Sans","labelFontSize":11,"labelColor":"#444444","titleFont":"DejaVu Sans","titleFontSize":13,"titleFontWeight":"normal","titleColor":"#222222","labelPadding":5},
"axisX":{"labelPadding":5,"tickCount":7},
"axisY":{"tickCount":10}
}
}
